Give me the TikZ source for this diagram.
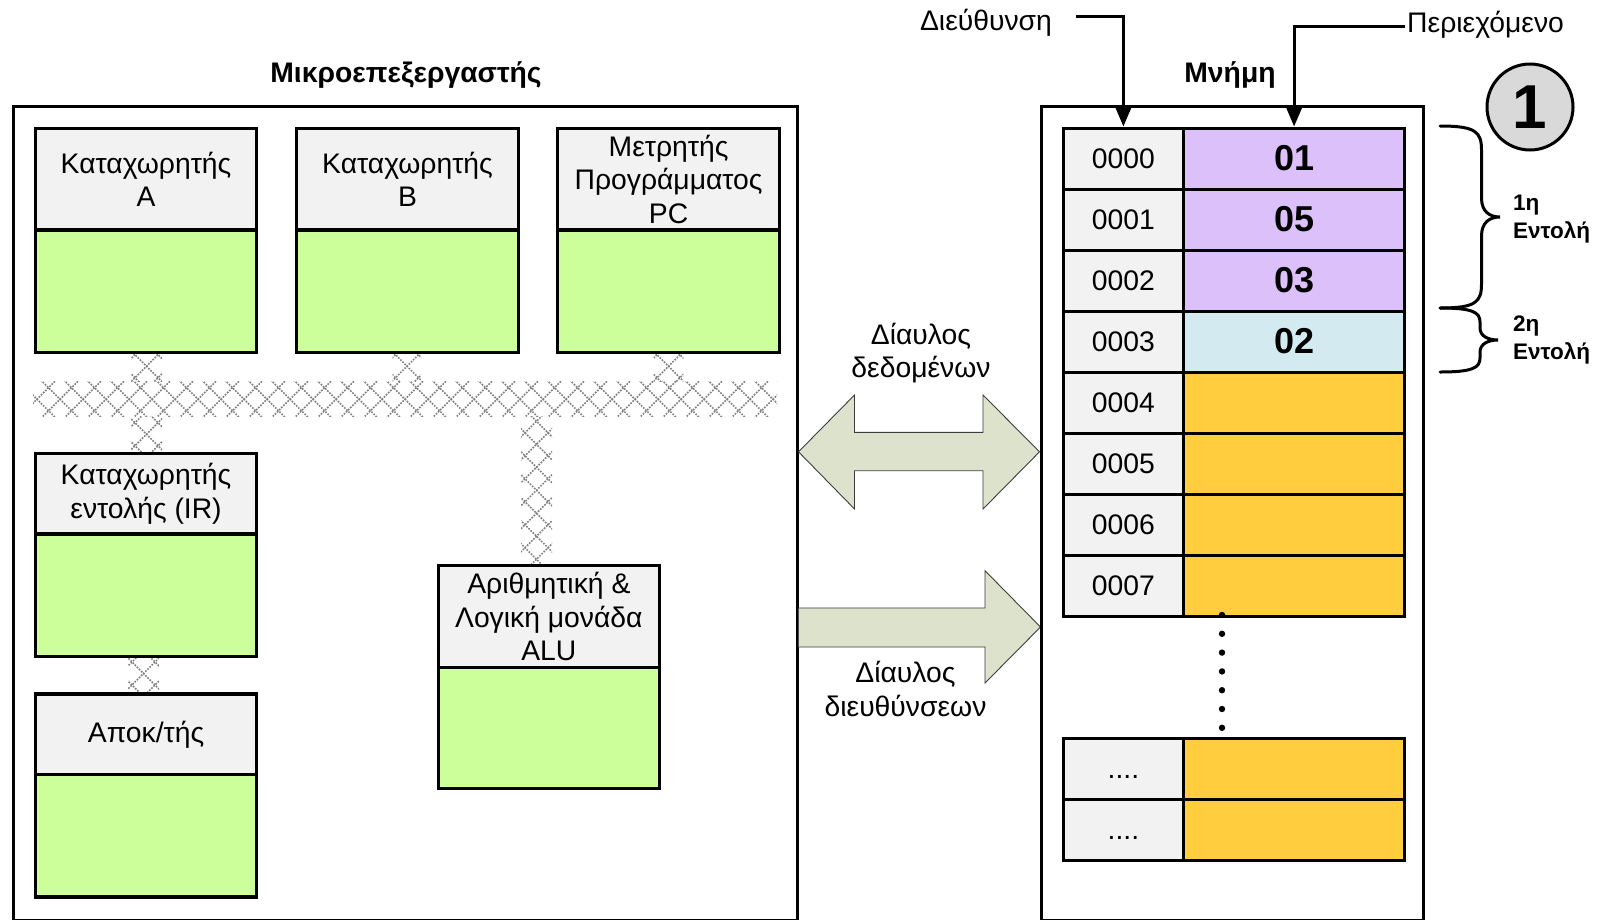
\documentclass[tikz,border=0pt]{standalone}
\usepackage{fontspec}
\setmainfont{Liberation Sans}
\usetikzlibrary{arrows.meta}

\definecolor{hdrgray}{HTML}{F2F2F2}
\definecolor{reggreen}{HTML}{CCFF99}
\definecolor{cpurple}{HTML}{DCC0FA}
\definecolor{cblue}{HTML}{D2EAF0}
\definecolor{corange}{HTML}{FFCD3E}
\definecolor{busfill}{HTML}{DDE2CC}
\definecolor{busedge}{HTML}{3C3C3C}
\definecolor{hatchgray}{HTML}{808080}
\definecolor{circgray}{HTML}{D9D9D9}

\newcommand\txtfont{\fontsize{28.3}{33.5}\selectfont}

\tikzset{
  frame/.style={draw=black, line width=3pt},
  title/.style={font=\bfseries\txtfont, inner sep=0pt},
  hdr/.style={draw=black, line width=3.4pt, fill=hdrgray, inner sep=0pt,
    anchor=north west, align=center, font=\txtfont},
  regbody/.style={draw=black, line width=3.4pt, fill=reggreen, inner sep=0pt,
    anchor=north west},
  addrcell/.style={draw=black, line width=3.2pt, fill=hdrgray, inner sep=0pt,
    anchor=north west, minimum width=120.4pt, minimum height=61pt, font=\txtfont},
  valcell/.style={draw=black, line width=3.2pt, inner sep=0pt,
    anchor=north west, minimum width=221pt, minimum height=61pt,
    font=\bfseries\fontsize{36}{36}\selectfont},
  hatch/.style={draw=hatchgray, line width=1.6pt, dash pattern=on 1.7pt off 1.3pt},
  busarrow/.style={fill=busfill, draw=busedge, line width=0.9pt, line join=miter},
  conn/.style={draw=black, line width=3pt, -{Triangle[length=21pt,width=17pt]}},
  label/.style={font=\txtfont, align=center, inner sep=0pt},
  bracelbl/.style={font=\bfseries\fontsize{22.5}{28.5}\selectfont, align=left,
    inner sep=0pt, anchor=west},
  brace/.style={draw=black, line width=3pt, line cap=round},
  memdot/.style={fill=black},
}

% hatched bus segment: x1, y1, x2, y2 (lattice centred on the segment)
\newcommand\hatchrect[4]{%
  \begin{scope}
    \clip (#1,#2) rectangle (#3,#4);
    \pgfmathsetmacro\hcx{(#1+#3)/2}
    \pgfmathsetmacro\hcy{(#2+#4)/2}
    \foreach \k in {-18,...,18}{
      \draw[hatch] ({\hcx+\k*23-100},{\hcy-100}) -- ({\hcx+\k*23+100},{\hcy+100});
      \draw[hatch] ({\hcx+\k*23-100},{\hcy+100}) -- ({\hcx+\k*23+100},{\hcy-100});
    }
  \end{scope}}

% register: name, x1, y1, x2, y-split, y2, label
\newcommand\register[7]{%
  \node[hdr, minimum width={#4-#2}, minimum height={#5-#3}] (#1h) at (#2,#3) {#7};
  \node[regbody, minimum width={#4-#2}, minimum height={#6-#5}] (#1b) at (#2,#5) {};}

\begin{document}
\begin{tikzpicture}[x=1pt,y=-1pt]
\useasboundingbox (0,0) rectangle (1599,919);

% ---------- microprocessor ----------
\node[title] (cputitle) at (406,75.5) {Μικροεπεξεργαστής};
\draw[frame] (13.3,106) rectangle (797.5,920.5);

% internal bus
\hatchrect{33}{381.7}{777}{416.7}
\hatchrect{131}{350.8}{162}{381.7}
\hatchrect{131}{416.7}{162}{451.8}
\hatchrect{392.6}{350.8}{421.2}{381.7}
\hatchrect{653.7}{350.8}{683.3}{381.7}
\hatchrect{521}{416.7}{552}{564}
\hatchrect{128}{654.7}{159}{692.4}

\register{rega}{33.7}{126.5}{255}{228.4}{350.8}{Καταχωρητής\\A}
\register{regb}{294.7}{126.5}{517}{228.4}{350.8}{Καταχωρητής\\B}
\register{pc}{555.8}{126.5}{778}{228.4}{350.8}{Μετρητής\\Προγράμματος\\PC}
\register{ir}{33.7}{451.8}{255}{532.3}{654.7}{Καταχωρητής\\εντολής (IR)}
\register{dec}{33.7}{692.4}{255}{773}{895.4}{Αποκ/τής}
\register{alu}{436.5}{564}{657.8}{666}{787}{Αριθμητική \&\\Λογική μονάδα\\ALU}

% ---------- buses between CPU and memory ----------
\draw[busarrow] (798.5,451.8) -- (854.5,395) -- (854.5,432.3) -- (983,432.3)
  -- (983,395) -- (1039.5,451.8) -- (983,509) -- (983,470.7) -- (854.5,470.7)
  -- (854.5,509) -- cycle;
\fill[busfill] (798.5,608) -- (985,608) -- (985,570.7) -- (1040.5,627)
  -- (985,683) -- (985,647) -- (798.5,647) -- cycle;
\draw[busarrow, fill=none] (798.5,608) -- (985,608) -- (985,570.7) -- (1040.5,627)
  -- (985,683) -- (985,647) -- (798.5,647);
\node[label] (databus) at (921,353) {Δίαυλος\\δεδομένων};
\node[label] (addrbus) at (905.5,689) {Δίαυλος\\διευθύνσεων};

% ---------- memory ----------
\node[title] (memtitle) at (1230,75.5) {Μνήμη};
\draw[frame] (1041,106) rectangle (1423.6,920.5);

\foreach \i/\a/\v/\c in {0/0000/01/cpurple, 1/0001/05/cpurple, 2/0002/03/cpurple,
    3/0003/02/cblue, 4/0004//corange, 5/0005//corange, 6/0006//corange, 7/0007//corange}{
  \node[addrcell] (a\i) at (1061.6,{126.5+61*\i}) {\a};
  \node[valcell, fill=\c] (v\i) at (1182,{126.5+61*\i}) {\v};
}
\node[addrcell] (a8) at (1061.6,736.7) {....\vphantom{0}};
\node[valcell, fill=corange] (v8) at (1182,736.7) {};
\node[addrcell] (a9) at (1061.6,797.7) {....\vphantom{0}};
\node[valcell, fill=corange] (v9) at (1182,797.7) {};

\foreach \j in {0,...,6}{
  \fill[memdot] (1222,{615+18.8*\j}) circle (3.2pt);
}

% address / content pointers
\node[label] (addrlbl) at (986,22.4) {Διεύθυνση};
\node[label, anchor=west] (contlbl) at (1407,24.5) {Περιεχόμενο};
\coordinate (addrstart) at (1076,16.3);
\coordinate (contstart) at (1405,26.5);
\draw[conn] (addrstart) -| (a0.north);
\draw[conn] (contstart) -| (v0.north);

% step marker
\node[circle, draw=black, line width=3pt, fill=circgray, minimum size=86pt,
  inner sep=0pt, font=\bfseries\fontsize{62}{62}\selectfont] (step1) at (1530,107) {1};

% instruction braces
\draw[brace] (1440,126) .. controls (1476,126) and (1481.5,132) .. (1481.5,150)
  -- (1481.5,198) .. controls (1481.5,211) and (1489,217) .. (1500,217)
  .. controls (1489,217) and (1481.5,223) .. (1481.5,236)
  -- (1481.5,284) .. controls (1481.5,302) and (1476,308) .. (1440,308);
\draw[brace] (1440,308) .. controls (1472,308) and (1480,312) .. (1480,322)
  -- (1480,328) .. controls (1480,336) and (1488,340) .. (1498,340)
  .. controls (1488,340) and (1480,344) .. (1480,352)
  -- (1480,358) .. controls (1480,368) and (1472,372) .. (1440,372);
\node[bracelbl] (ins1) at (1513,219) {1η\\Εντολή};
\node[bracelbl] (ins2) at (1513,340) {2η\\Εντολή};
\end{tikzpicture}
\end{document}
